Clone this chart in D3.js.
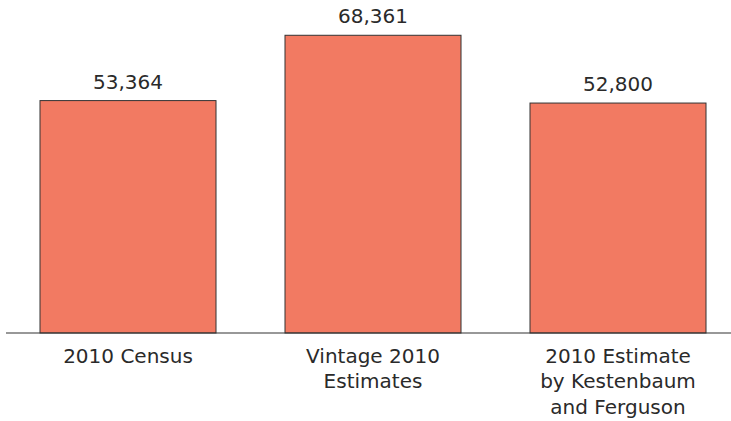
<!DOCTYPE html>
<html><head><meta charset="utf-8">
<script src="https://cdn.jsdelivr.net/npm/d3@7"></script>
<style>body{margin:0;background:#fff}</style>
</head><body>
<svg id="c" width="731" height="421"></svg>
<script>
const categories = [["2010 Census"], ["Vintage 2010", "Estimates"], ["2010 Estimate", "by Kestenbaum", "and Ferguson"]];
const values = [53364, 68361, 52800];

const W = 731, H = 421, baseY = 333;
const svg = d3.select("#c");
const x = d3.scaleBand().domain(d3.range(values.length)).range([5.5, 740.5]).paddingInner(0.2816).paddingOuter(0.1408);
const y = d3.scaleLinear().domain([0, 76300]).range([baseY, 0.7]);
const font = "'DejaVu Sans', sans-serif";

svg.selectAll("rect.bar").data(values).join("rect")
  .attr("class", "bar")
  .attr("x", (d, i) => x(i)).attr("width", x.bandwidth())
  .attr("y", d => y(d)).attr("height", d => baseY - y(d))
  .attr("fill", "#F27A62").attr("stroke", "#333").attr("stroke-width", 1);

svg.selectAll("text.val").data(values).join("text")
  .attr("class", "val")
  .attr("x", (d, i) => x(i) + x.bandwidth() / 2)
  .attr("y", d => y(d) - 12)
  .attr("text-anchor", "middle")
  .attr("font-family", font).attr("font-size", 20).attr("fill", "#2a2a2a")
  .text(d => d3.format(",")(d));

svg.append("line").attr("x1", 6).attr("x2", W).attr("y1", baseY).attr("y2", baseY)
  .attr("stroke", "#333").attr("stroke-width", 1.2);

const lab = svg.selectAll("text.cat").data(categories).join("text")
  .attr("class", "cat")
  .attr("text-anchor", "middle")
  .attr("font-family", font).attr("font-size", 20).attr("fill", "#2a2a2a");
lab.each(function(lines, i) {
  d3.select(this).selectAll("tspan").data(lines).join("tspan")
    .attr("x", x(i) + x.bandwidth() / 2)
    .attr("y", (d, j) => 362.5 + j * 25.8)
    .text(d => d);
});
</script>
</body></html>
